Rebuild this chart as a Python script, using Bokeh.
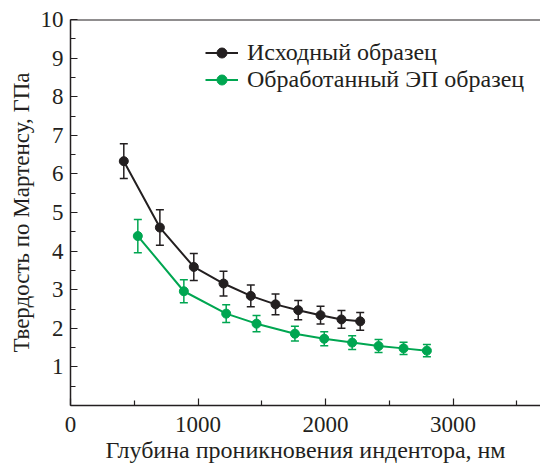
from bokeh.plotting import figure
from bokeh.models import (ColumnDataSource, Whisker, TeeHead, FixedTicker, Legend,
                          LegendItem, Span, Range1d)
from bokeh.embed import file_html
from bokeh.resources import INLINE

# Data
depth_initial = [418, 701, 967, 1200, 1414, 1608, 1786, 1961, 2125, 2272]
hard_initial = [6.33, 4.61, 3.59, 3.16, 2.84, 2.62, 2.47, 2.34, 2.23, 2.18]
err_initial = [0.45, 0.46, 0.35, 0.32, 0.28, 0.27, 0.25, 0.23, 0.23, 0.23]

depth_treated = [528, 889, 1221, 1459, 1760, 1990, 2209, 2416, 2612, 2795]
hard_treated = [4.39, 2.96, 2.38, 2.12, 1.86, 1.73, 1.63, 1.54, 1.48, 1.42]
err_treated = [0.43, 0.30, 0.23, 0.21, 0.19, 0.18, 0.18, 0.17, 0.16, 0.16]

series_labels = ["Исходный образец", "Обработанный ЭП образец"]
series_colors = ["#231f20", "#00a651"]

x_ticks = [0, 1000, 2000, 3000]
x_minor = [500, 1500, 2500, 3500]
y_ticks = [0, 1, 2, 3, 4, 5, 6, 7, 8, 9, 10]
y_minor = [0.5, 1.5, 2.5, 3.5, 4.5, 5.5, 6.5, 7.5, 8.5, 9.5]

x_title = "Глубина проникновения индентора, нм"
y_title = "Твердость по Мартенсу, ГПа"

FONT = "Times New Roman"
INK = "#231f20"

p = figure(width=540, height=465, output_backend="svg", toolbar_location=None,
           x_range=Range1d(0, 3686), y_range=Range1d(0, 10),
           min_border_left=70, min_border_top=19, min_border_right=0,
           min_border_bottom=0)
p.outline_line_color = None
p.grid.visible = False
p.background_fill_color = "white"
p.border_fill_color = "white"

items = []
for xs, ys, es, lab, col in [(depth_initial, hard_initial, err_initial, series_labels[0], series_colors[0]),
                             (depth_treated, hard_treated, err_treated, series_labels[1], series_colors[1])]:
    src = ColumnDataSource(dict(x=xs, y=ys,
                                upper=[a + b for a, b in zip(ys, es)],
                                lower=[a - b for a, b in zip(ys, es)]))
    w = Whisker(source=src, base="x", upper="upper", lower="lower",
                line_color=col, line_width=1.5,
                upper_head=TeeHead(size=8, line_color=col, line_width=1.5),
                lower_head=TeeHead(size=8, line_color=col, line_width=1.5))
    p.add_layout(w)
    ln = p.line("x", "y", source=src, line_color=col, line_width=2)
    sc = p.scatter("x", "y", source=src, size=9, fill_color=col, line_color=col)
    items.append(LegendItem(label=lab, renderers=[ln, sc]))

legend = Legend(items=items, location=(135, 312), padding=0, spacing=0,
                glyph_width=33, glyph_height=25, label_height=25,
                label_standoff=9, label_text_font=FONT,
                label_text_font_size="24px", label_text_color=INK,
                border_line_color=None, background_fill_alpha=0)
p.add_layout(legend, "center")

p.add_layout(Span(location=10, dimension="width", line_color=INK, line_width=2))

p.xaxis.ticker = FixedTicker(ticks=x_ticks, minor_ticks=x_minor)
p.yaxis.ticker = FixedTicker(ticks=y_ticks, minor_ticks=y_minor)
p.yaxis.major_label_overrides = {0: ""}

for ax in (p.xaxis[0], p.yaxis[0]):
    ax.axis_line_color = INK
    ax.axis_line_width = 1.5
    ax.major_tick_line_color = INK
    ax.minor_tick_line_color = INK
    ax.major_tick_line_width = 1.2
    ax.minor_tick_line_width = 1.2
    ax.major_tick_in = 7
    ax.major_tick_out = 0
    ax.minor_tick_in = 5
    ax.minor_tick_out = 0
    ax.major_label_text_font = FONT
    ax.major_label_text_font_size = "23px"
    ax.major_label_text_color = INK
    ax.axis_label_text_font = FONT
    ax.axis_label_text_font_size = "23px"
    ax.axis_label_text_font_style = "normal"
    ax.axis_label_text_color = INK

p.xaxis.axis_label_text_font_size = "24px"
p.xaxis.axis_label = x_title
p.yaxis.axis_label = y_title
p.xaxis.major_label_standoff = 11
p.xaxis.axis_label_standoff = 2
p.yaxis.major_label_standoff = 7
p.yaxis.axis_label_standoff = 4

open("out.html", "w").write(file_html(p, INLINE))
